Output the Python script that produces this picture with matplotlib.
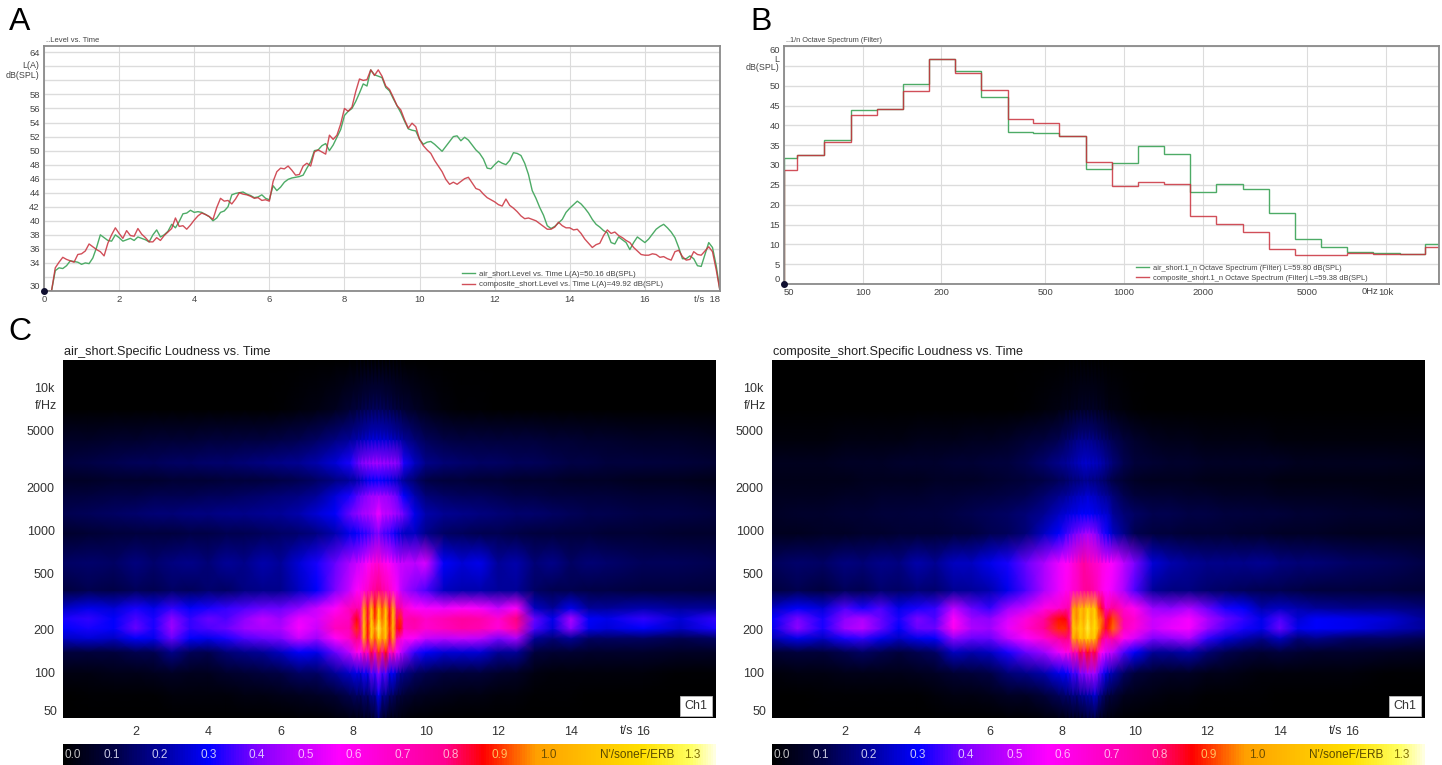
import numpy as np
import matplotlib
matplotlib.use("Agg")
import matplotlib.pyplot as plt
from matplotlib.colors import LinearSegmentedColormap, Normalize
from matplotlib.colorbar import ColorbarBase

plt.rcParams["font.family"] = ["Liberation Sans", "DejaVu Sans"]

# Panel A: level vs time, one value every 0.1 s
level_time = np.arange(181) / 10
level_air = [
    30, 30, 30, 32.9, 33.3, 33.2, 33.6, 34.3, 34.2, 34.1,
    33.8, 34.0, 33.9, 34.7, 36.2, 38.0, 37.6, 37.2, 37.1, 38.0,
    37.6, 37.1, 37.3, 37.5, 37.2, 37.7, 37.5, 37.3, 37.0, 38.0,
    38.7, 37.7, 38.0, 38.5, 39.5, 39.0, 39.9, 41.0, 41.1, 41.5,
    41.2, 41.3, 41.2, 40.9, 40.6, 40.0, 40.4, 41.2, 41.4, 42.0,
    43.7, 43.9, 44.0, 44.1, 43.8, 43.6, 43.3, 43.4, 43.7, 43.2,
    43.0, 45.0, 44.3, 44.8, 45.5, 45.9, 46.1, 46.2, 46.3, 46.5,
    47.5, 48.4, 50.0, 50.1, 50.7, 51.0, 50.0, 50.8, 51.9, 53.0,
    55.0, 55.6, 56.0, 57.0, 58.2, 59.5, 59.2, 61.5, 60.8, 60.6,
    60.4, 59.0, 58.5, 57.4, 56.4, 55.4, 54.2, 53.1, 52.9, 52.8,
    51.6, 50.9, 51.2, 51.3, 50.9, 50.4, 49.9, 50.6, 51.3, 52.0,
    52.1, 51.4, 51.9, 51.5, 50.8, 50.1, 49.6, 48.8, 47.5, 47.4,
    48.0, 48.5, 48.2, 48.0, 48.6, 49.7, 49.6, 49.3, 48.2, 46.6,
    44.3, 43.2, 41.9, 40.8, 39.3, 38.9, 39.2, 39.7, 40.2, 41.2,
    41.8, 42.3, 42.8, 42.4, 41.8, 41.1, 40.2, 39.5, 39.1, 38.6,
    38.3, 36.9, 36.7, 37.7, 37.3, 36.9, 35.9, 36.9, 37.7, 37.3,
    36.9, 37.4, 38.1, 38.8, 39.2, 39.5, 39.0, 38.4, 37.6, 36.2,
    34.6, 34.6, 35.0, 34.6, 33.6, 33.5, 35.2, 36.9, 36.2, 33.6, 30,
]
level_composite = [
    30, 30, 30, 33.3, 34.1, 34.8, 34.5, 34.3, 34.1, 35.2,
    35.3, 35.7, 36.7, 36.3, 35.9, 35.6, 35.0, 36.8, 38.0, 39.0,
    38.2, 37.5, 38.6, 37.9, 37.8, 38.9, 38.1, 37.6, 37.0, 37.0,
    37.6, 37.2, 37.9, 38.4, 38.9, 40.4, 39.2, 39.3, 38.8, 39.4,
    40.1, 40.7, 41.1, 40.9, 40.6, 40.2, 41.9, 43.2, 42.8, 42.9,
    42.4, 43.1, 44.0, 43.8, 43.7, 43.5, 43.2, 43.3, 42.9, 43.0,
    42.8, 45.6, 47.0, 47.5, 47.4, 47.8, 47.2, 46.5, 46.6, 47.8,
    48.2, 47.8, 49.8, 50.1, 49.8, 49.5, 52.2, 51.6, 52.2, 53.8,
    56.0, 55.6, 56.2, 58.4, 60.2, 60.0, 60.1, 61.5, 60.7, 61.5,
    60.6, 59.2, 58.7, 57.6, 56.4, 55.8, 54.4, 53.2, 53.9, 53.4,
    51.6, 50.7, 50.1, 49.6, 48.6, 47.8, 47.0, 45.9, 45.2, 45.5,
    45.2, 45.6, 46.0, 46.2, 45.4, 44.6, 44.4, 43.8, 43.3, 43.0,
    42.7, 42.3, 42.1, 43.1, 42.2, 41.8, 41.3, 40.7, 40.3, 40.4,
    40.2, 40.0, 39.6, 39.2, 38.8, 38.8, 39.1, 39.8, 39.3, 39.0,
    39.0, 38.7, 38.8, 38.2, 37.4, 36.8, 36.2, 36.6, 36.8, 37.9,
    38.7, 38.2, 38.4, 37.9, 37.6, 37.2, 36.9, 36.2, 35.7, 35.2,
    35.1, 35.1, 35.3, 35.2, 34.8, 34.9, 34.6, 34.4, 35.6, 35.8,
    34.9, 34.4, 34.5, 35.6, 35.2, 35.1, 35.7, 36.3, 35.6, 33.0, 30,
]

# Panel B: 1/3 octave spectrum
band_edges = [50, 56, 71, 90, 113, 142, 179, 225, 283, 358, 450, 565, 712, 897, 1130,
              1422, 1790, 2250, 2840, 3570, 4490, 5660, 7130, 8980, 11300, 14200, 16000]
spec_air = [31.7, 32.6, 36.2, 43.8, 44.2, 50.5, 56.8, 53.8, 47.2, 38.3, 38.0, 37.2, 29.0,
            30.5, 34.9, 32.7, 23.1, 25.1, 23.9, 18.0, 11.4, 9.4, 8.1, 7.7, 7.6, 10.0]
spec_composite = [28.8, 32.6, 35.8, 42.6, 44.1, 48.7, 56.6, 53.2, 49.0, 41.7, 40.7, 37.2, 30.8,
                  24.8, 25.7, 25.1, 17.1, 15.2, 13.2, 8.9, 7.2, 7.4, 7.7, 7.6, 7.6, 9.4]

# Panel C: specific loudness, in 1/100 sone
sg_time = [0, .7, 1.4, 2, 2.5, 3, 3.5, 4, 4.5, 5, 5.5, 6, 6.5, 7, 7.5, 7.9,
           8.1, 8.2, 8.3, 8.4, 8.5, 8.6, 8.7, 8.8, 8.9, 9.0, 9.1, 9.2, 9.3, 9.4,
           9.7, 10, 10.5, 11, 11.5, 12, 12.5, 13, 13.5, 14, 14.5, 15, 16, 17, 18]
sg_freq = [15500, 7000, 4300, 2950, 2230, 1750, 1300, 950, 590, 380, 285, 240, 205, 175, 140, 100, 70, 48]
sg_air = [
    [0]*16 + [0]*14 + [0]*15,
    [0,0,0,0,0,0,0,0,0,0,0,1,2,3,5,8, 10,11,12,12,13,13,13,13,12,12,11,10,9,8, 6,4,2,1,1,0,0,0,0,0,0,0,0,0,0],
    [6,6,7,7,8,8,8,9,9,10,10,11,12,14,17,20, 22,23,24,25,26,26,26,26,26,25,24,23,22,20, 16,13,11,10,10,9,9,9,8,8,7,7,6,6,5],
    [10,11,12,13,13,14,14,15,15,16,17,18,19,22,26,32, 37,40,42,43,44,45,45,44,44,43,43,42,38,32, 24,18,16,15,14,14,13,13,12,11,11,10,10,9,8],
    [6,6,7,7,7,8,8,8,9,9,10,11,12,14,17,20, 22,24,26,28,30,30,31,30,29,28,26,25,22,20, 15,11,9,9,8,8,7,7,7,6,6,6,5,5,4],
    [9,10,11,11,12,12,12,13,13,14,15,16,17,20,26,32, 36,38,40,42,44,44,45,44,44,42,40,38,34,30, 22,16,14,13,13,12,11,11,10,10,9,9,8,8,7],
    [12,13,14,15,16,16,17,17,18,18,19,20,22,26,30,38, 42,44,46,46,48,50,56,50,48,48,46,44,42,38, 28,22,19,18,17,16,15,15,14,13,12,12,11,11,10],
    [7,8,9,10,10,10,11,11,12,12,13,14,15,17,22,28, 30,32,33,34,36,38,40,36,35,34,32,28,26,24, 24,18,14,13,12,12,11,10,10,9,9,8,8,7,7],
    [14,15,14,17,15,17,18,16,20,18,22,20,26,32,38,46, 50,52,54,58,62,64,66,62,60,58,54,52,50,50, 48,52,30,26,28,20,22,16,18,14,16,15,13,13,12],
    [10,12,11,13,12,14,13,15,14,17,18,18,24,30,40,50, 58,60,64,68,74,78,80,76,72,68,62,56,50,46, 40,36,24,22,22,20,20,14,12,12,11,11,10,10,9],
    [24,28,26,32,28,34,30,32,34,36,38,38,42,50,58,70, 74,72,100,84,112,88,116,92,112,84,104,78,76,66, 58,56,55,58,56,50,58,24,20,28,20,20,22,20,20],
    [32,34,30,36,32,42,34,38,36,42,48,44,54,52,66,70, 86,76,108,84,116,90,120,94,116,86,110,82,90,72, 74,68,72,76,74,66,80,38,28,46,30,28,34,26,34],
    [30,32,30,38,32,44,34,36,38,44,46,46,56,50,70,72, 90,80,112,88,118,96,126,98,116,90,108,84,88,70, 72,66,70,74,72,64,76,36,26,42,28,26,30,24,32],
    [24,26,24,30,28,38,30,28,32,36,38,40,50,44,58,68, 80,74,104,84,112,92,118,96,112,84,102,74,66,60, 56,50,48,50,48,40,46,20,16,20,14,14,14,12,14],
    [10,10,10,12,12,18,13,12,16,18,20,24,30,28,38,48, 62,58,76,64,84,70,90,74,88,64,76,56,50,44, 34,30,26,26,26,20,20,10,8,8,7,7,7,6,6],
    [3,3,4,4,5,6,5,5,7,8,10,11,14,14,20,25, 28,26,32,28,38,34,44,34,38,28,30,24,20,18, 14,12,10,9,9,7,6,3,2,2,2,2,2,1,1],
    [0,1,1,1,1,2,2,2,2,3,3,4,5,6,8,12, 14,13,16,14,20,18,30,18,20,14,14,11,10,8, 6,5,4,3,3,2,2,1,1,1,0,0,0,0,0],
    [0,0,0,0,0,0,0,0,0,0,0,0,1,1,2,3, 3,3,5,4,6,8,14,6,6,3,3,3,2,2, 1,1,0,0,0,0,0,0,0,0,0,0,0,0,0],
]
sg_composite = [
    [0]*16 + [0]*14 + [0]*15,
    [0,0,0,0,0,0,0,0,0,0,0,0,0,1,2,3, 4,4,5,5,6,6,6,6,6,5,5,4,3,3, 2,1,0,0,0,0,0,0,0,0,0,0,0,0,0],
    [2,2,2,3,3,3,3,4,4,4,5,5,6,8,10,12, 14,15,16,17,18,18,18,18,17,16,15,14,13,12, 9,7,5,4,4,3,3,3,3,2,2,2,2,2,2],
    [5,5,5,6,6,6,7,7,7,8,8,9,10,12,15,18, 20,21,22,23,24,25,25,24,24,23,22,20,18,16, 12,9,8,7,7,6,6,6,6,6,5,5,5,5,4],
    [4,4,4,4,5,5,5,5,6,6,6,7,8,9,11,13, 14,15,16,16,17,18,18,17,17,16,15,14,12,11, 8,6,5,5,5,4,4,4,4,3,3,3,3,3,3],
    [5,5,5,6,6,7,7,7,8,8,9,10,11,12,15,18, 20,21,22,23,24,24,26,24,24,22,21,20,18,16, 12,9,8,8,7,7,6,6,6,5,5,5,5,4,4],
    [6,7,7,8,8,9,9,10,10,11,12,13,14,16,19,24, 26,27,28,28,30,30,30,30,28,28,26,26,24,20, 16,14,12,12,11,11,10,10,9,9,8,8,7,7,6],
    [5,5,6,6,7,7,8,8,8,9,10,12,13,16,24,30, 34,36,38,40,42,44,46,44,42,38,34,32,28,24, 18,12,10,9,8,8,8,7,7,6,6,6,5,5,5],
    [13,15,14,17,16,18,17,22,19,24,24,28,32,38,46,54, 58,60,64,68,72,76,72,70,68,66,62,60,58,56, 48,40,26,22,20,18,18,18,19,17,16,16,14,13,11],
    [10,12,10,13,12,15,14,16,15,19,20,22,28,36,46,54, 60,62,66,68,72,76,78,76,72,68,62,58,56,54, 46,36,20,17,17,15,14,13,12,12,11,10,10,9,8],
    [24,30,26,36,32,36,28,32,34,48,38,34,44,50,62,66, 72,74,100,96,110,100,118,104,114,92,84,70,74,78, 66,60,44,42,46,38,32,30,22,24,22,20,18,18,16],
    [30,40,32,42,46,38,32,40,36,58,44,42,52,64,76,88, 86,78,108,96,112,100,122,104,118,96,94,82,88,92, 72,66,50,52,56,46,38,34,28,36,26,30,28,26,20],
    [28,42,32,44,48,38,30,38,38,60,46,44,54,66,78,90, 90,82,112,104,118,108,126,110,120,100,92,84,90,94, 70,64,50,54,56,44,36,32,28,38,28,30,28,24,20],
    [22,28,24,32,34,28,24,28,30,42,38,38,48,56,66,76, 80,78,104,96,112,104,118,106,112,92,80,72,74,76, 60,52,40,42,46,34,26,22,18,24,16,18,14,14,12],
    [8,10,9,12,14,12,10,12,14,24,22,24,32,38,44,54, 62,62,76,70,84,78,88,80,84,68,58,52,50,48, 36,30,20,20,22,16,12,10,8,10,8,7,7,6,5],
    [2,3,3,4,4,4,4,5,6,8,9,11,16,18,22,28, 30,32,36,34,42,40,46,44,46,38,34,28,24,22, 14,10,7,6,6,4,4,3,2,2,2,2,2,1,1],
    [0,0,1,1,1,1,1,1,2,3,3,4,6,6,9,13, 15,15,18,16,20,20,22,22,26,20,16,12,10,9, 5,4,3,2,2,1,1,1,1,0,0,0,0,0,0],
    [0,0,0,0,0,0,0,0,0,0,0,0,1,1,2,3, 3,4,4,4,5,6,8,8,10,5,4,3,2,2, 1,1,0,0,0,0,0,0,0,0,0,0,0,0,0],
]
sg_ticks = [100, 200, 500, 1000, 2000, 5000, 10000]
sg_tick_labels = ["100", "200", "500", "1000", "2000", "5000", "10k"]
cbar_labels = ["0.1", "0.2", "0.3", "0.4", "0.5", "0.6", "0.7", "0.8", "0.9", "1.0"]
cbar_label_colors = ["#c8c8e0", "#c8c8f0", "#c8c8f8", "#e0c0ff", "#ffb0ff", "#ffb0ff", "#ffb0f0", "#ffb0d0", "#ffc060", "#705000"]

GREEN = "#4dab66"
RED = "#c9303c"
GREY = "#444444"

loud_cmap = LinearSegmentedColormap.from_list("loudness", [
    (0.0, "#000000"), (0.10 / 1.35, "#000040"), (0.2 / 1.35, "#00009c"), (0.3 / 1.35, "#0000ff"),
    (0.4 / 1.35, "#8000ff"), (0.57 / 1.35, "#ff00ff"), (0.79 / 1.35, "#ff0090"), (0.87 / 1.35, "#ff0000"),
    (0.98 / 1.35, "#ffa000"), (1.2 / 1.35, "#ffe000"), (1.3 / 1.35, "#ffff60"), (1.0, "#ffffe0"),
])
loud_norm = Normalize(0, 1.35)

fig = plt.figure(figsize=(14.42, 7.65), dpi=100)
W, H = 1442, 765


def px_axes(left, top, right, bottom):
    return fig.add_axes([left / W, 1 - bottom / H, (right - left) / W, (bottom - top) / H])


def px_text(x, y, s, **kw):
    kw.setdefault("va", "center")
    fig.text(x / W, 1 - y / H, s, **kw)


def curve_frame(ax):
    for side in ax.spines:
        ax.spines[side].set_color("#8a8a8a")
        ax.spines[side].set_linewidth(1.3)
    ax.tick_params(length=0, labelsize=6.8, labelcolor=GREY, pad=3)
    ax.set_axisbelow(True)


# A
ax = px_axes(44, 46, 720, 291)
ax.plot(level_time, level_air, color=GREEN, lw=1.0, label="air_short.Level vs. Time L(A)=50.16 dB(SPL)")
ax.plot(level_time, level_composite, color=RED, lw=1.0, alpha=0.85, label="composite_short.Level vs. Time L(A)=49.92 dB(SPL)")
ax.set_xlim(0, 18)
ax.set_ylim(30, 64.9)
ax.set_xticks(range(0, 19, 2))
ax.set_xticklabels(["0", "2", "4", "6", "8", "10", "12", "14", "16", "t/s  18"])
ax.get_xticklabels()[-1].set_ha("right")
ax.set_yticks(range(30, 65, 2))
ax.set_yticklabels([str(v) if v not in (32, 60, 62) else "" for v in range(30, 65, 2)])
ax.get_yticklabels()[0].set_va("bottom")
ax.grid(True, axis="y", color="#dcdcdc", lw=1.0)
ax.grid(True, axis="x", color="#dcdcdc", lw=0.8)
curve_frame(ax)
ax.plot([0], [30], "o", color="#101030", ms=4, clip_on=False, zorder=5)
ax.legend(loc="lower left", bbox_to_anchor=(0.61, -0.012), frameon=False, fontsize=5.7,
          labelcolor=GREY, handlelength=1.7, handletextpad=0.5, labelspacing=0.35, borderpad=0.2)
px_text(46, 41, "..Level vs. Time", fontsize=5.5, color=GREY)
px_text(39, 66, "L(A)", fontsize=6.4, color=GREY, ha="right")
px_text(39, 75, "dB(SPL)", fontsize=6.4, color=GREY, ha="right")

# B
ax = px_axes(784, 46, 1439, 284)
ax.stairs(spec_air, band_edges, color=GREEN, lw=1.0, label="air_short.1_n Octave Spectrum (Filter) L=59.80 dB(SPL)")
ax.stairs(spec_composite, band_edges, color=RED, lw=1.0, alpha=0.85, label="composite_short.1_n Octave Spectrum (Filter) L=59.38 dB(SPL)")
ax.set_xscale("log")
ax.set_xlim(50, 16000)
ax.set_ylim(0, 60)
ax.set_xticks([50, 100, 200, 500, 1000, 2000, 5000, 10000])
ax.set_xticklabels(["50", "100", "200", "500", "1000", "2000", "5000", "10k"])
ax.get_xticklabels()[0].set_ha("left")
ax.xaxis.set_minor_locator(matplotlib.ticker.NullLocator())
ax.set_yticks(range(0, 61, 5))
ax.set_yticklabels([str(v) if v != 55 else "" for v in range(0, 61, 5)])
ax.get_yticklabels()[0].set_va("bottom")
ax.get_yticklabels()[-1].set_va("top")
ax.grid(True, axis="y", color="#dcdcdc", lw=1.0)
ax.grid(True, axis="x", color="#dcdcdc", lw=0.8)
curve_frame(ax)
ax.plot([50], [0], "o", color="#101030", ms=4, clip_on=False, zorder=5)
ax.legend(loc="lower left", bbox_to_anchor=(0.53, -0.012), frameon=False, fontsize=5.45,
          labelcolor=GREY, handlelength=1.7, handletextpad=0.5, labelspacing=0.35, borderpad=0.2)
px_text(786, 41, "..1/n Octave Spectrum (Filter)", fontsize=5.3, color=GREY)
px_text(779, 60, "L", fontsize=6.4, color=GREY, ha="right")
px_text(779, 68, "dB(SPL)", fontsize=6.4, color=GREY, ha="right")
px_text(1370, 291, "0Hz", fontsize=6.8, color=GREY, ha="center")

# C
for left, right, title, sg in [(63, 716, "air_short.Specific Loudness vs. Time", sg_air),
                               (772, 1425, "composite_short.Specific Loudness vs. Time", sg_composite)]:
    ax = px_axes(left, 360, right, 718)
    ax.set_facecolor("black")
    ax.pcolormesh(sg_time, sg_freq[::-1], np.array(sg[::-1]) / 100, cmap=loud_cmap, norm=loud_norm, shading="gouraud")
    ax.set_yscale("log")
    ax.set_xlim(0, 18)
    ax.set_ylim(48.4, 15500)
    ax.set_xticks(range(2, 17, 2))
    ax.set_xticklabels(["2", "4", "6", "8", "10", "12", "14", "16"])
    ax.set_yticks(sg_ticks)
    ax.set_yticklabels(sg_tick_labels)
    ax.yaxis.set_minor_locator(matplotlib.ticker.NullLocator())
    ax.tick_params(length=0, labelsize=9, labelcolor="#333333", pad=6)
    for side in ax.spines:
        ax.spines[side].set_visible(False)
    px_text(left + 1, 352, title, fontsize=9.1, color="#222222")
    px_text(left - 6, 406, "f/Hz", fontsize=9, color="#333333", ha="right")
    px_text(left - 6, 712, "50", fontsize=9, color="#333333", ha="right")
    px_text(left + 564, 731, "t/s", fontsize=9, color="#333333", ha="center")
    px_text(left + 633, 706, "Ch1", fontsize=9, color="#333333", ha="center",
            bbox=dict(boxstyle="square,pad=0.35", fc="white", ec="#bbbbbb", lw=0.6))

    cax = px_axes(left, 744, right, 765)
    ColorbarBase(cax, cmap=loud_cmap, norm=loud_norm, orientation="horizontal", ticks=[])
    cax.spines["outline"].set_visible(False)
    px_text(left + 10, 755, "0.0", fontsize=8.5, color="#c0c0c0", ha="center")
    for k, (lab, col) in enumerate(zip(cbar_labels, cbar_label_colors)):
        px_text(left + 48.5 * (k + 1), 755, lab, fontsize=8.5, color=col, ha="center")
    px_text(left + 574, 755, "N'/soneF/ERB", fontsize=8.5, color="#5a4a00", ha="center")
    px_text(left + 629, 755, "1.3", fontsize=8.5, color="#807000", ha="center")

px_text(9, 30, "A", fontsize=23, color="black", va="baseline")
px_text(750, 30, "B", fontsize=23, color="black", va="baseline")
px_text(8, 340, "C", fontsize=23, color="black", va="baseline")

fig.savefig("out.png", dpi=100)
